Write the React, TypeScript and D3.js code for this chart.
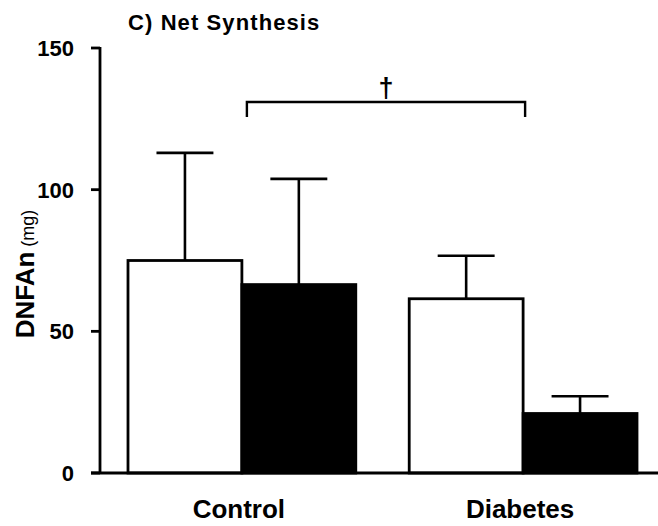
import React from "react";
import * as d3 from "d3";

// Groups and series
const groups = ["Control", "Diabetes"];
const series = ["open", "filled"];
// Mean net synthesis (mg) per group, for each series
const openMeans = [75, 61.5];
const filledMeans = [66.5, 21];
// Upper error (SD) per group, for each series
const openErr = [38, 15.2];
const filledErr = [37.3, 6.1];
const yTicks = [0, 50, 100, 150];

const W = 658;
const H = 526;
const FONT = "'Liberation Sans', Arial, Helvetica, sans-serif";

export default function App() {
  const y = d3.scaleLinear().domain([0, 150]).range([473, 48]);
  const x0 = d3.scaleBand<string>().domain(groups).range([128, 637]).paddingInner(0.19).paddingOuter(0);
  const x1 = d3.scaleBand<string>().domain(series).range([0, x0.bandwidth()]).padding(0);

  const axisX = 100;
  const baseY = y(0);

  const rows = groups.flatMap((g, i) => [
    { g, s: "open", v: openMeans[i], e: openErr[i], fill: "#fff" },
    { g, s: "filled", v: filledMeans[i], e: filledErr[i], fill: "#000" },
  ]);

  const cap = x1.bandwidth() * 0.5;
  const gc = (g: string) => (x0(g) as number) + x0.bandwidth() / 2;

  const brY = 102;
  const brL = gc("Control") + 5;
  const brR = gc("Diabetes") + 2;

  return (
    <svg width={W} height={H} style={{ position: "absolute", left: 0, top: 0, background: "#fff" }} fontFamily={FONT}>
      <rect width={W} height={H} fill="#fff" />
      {/* title */}
      <text x={128} y={30} fontSize={22} fontWeight="bold" letterSpacing={1.1}>C) Net Synthesis</text>

      {/* significance bracket */}
      <path
        d={`M${brL},${brY + 15}V${brY}H${brR}V${brY + 15}`}
        fill="none"
        stroke="#000"
        strokeWidth={2.4}
      />
      <text x={(brL + brR) / 2} y={brY - 5} fontSize={27} fontWeight="bold" textAnchor="middle">†</text>

      {/* error bars (upper only) */}
      {rows.map((r, i) => {
        const cx = (x0(r.g) as number) + (x1(r.s) as number) + x1.bandwidth() / 2;
        const top = y(r.v + r.e);
        return (
          <g key={"e" + i} stroke="#000" strokeWidth={2.6}>
            <line x1={cx} x2={cx} y1={y(r.v)} y2={top} />
            <line x1={cx - cap / 2} x2={cx + cap / 2} y1={top} y2={top} />
          </g>
        );
      })}

      {/* bars */}
      {rows.map((r, i) => (
        <rect
          key={"b" + i}
          x={(x0(r.g) as number) + (x1(r.s) as number)}
          y={y(r.v)}
          width={x1.bandwidth()}
          height={baseY - y(r.v)}
          fill={r.fill}
          stroke="#000"
          strokeWidth={2.8}
        />
      ))}

      {/* y axis */}
      <line x1={axisX} x2={axisX} y1={y(150) - 1} y2={baseY} stroke="#000" strokeWidth={2.8} />
      {yTicks.map((t) => (
        <g key={t}>
          <line x1={axisX - 9} x2={axisX} y1={y(t)} y2={y(t)} stroke="#000" strokeWidth={2.8} />
          <text x={74} y={y(t) + 8} fontSize={22} fontWeight="bold" textAnchor="end">{t}</text>
        </g>
      ))}

      {/* x axis */}
      <line x1={axisX - 9} x2={W} y1={baseY} y2={baseY} stroke="#000" strokeWidth={2.8} />
      {groups.map((g) => (
        <text key={g} x={gc(g) - 3} y={518} fontSize={26} fontWeight="bold" textAnchor="middle">{g}</text>
      ))}

      {/* y axis title */}
      <text transform={`translate(34,274) rotate(-90)`} textAnchor="middle">
        <tspan fontSize={26} fontWeight="bold">DNFAn</tspan>
        <tspan fontSize={18} dx={5}>(mg)</tspan>
      </text>
    </svg>
  );
}
